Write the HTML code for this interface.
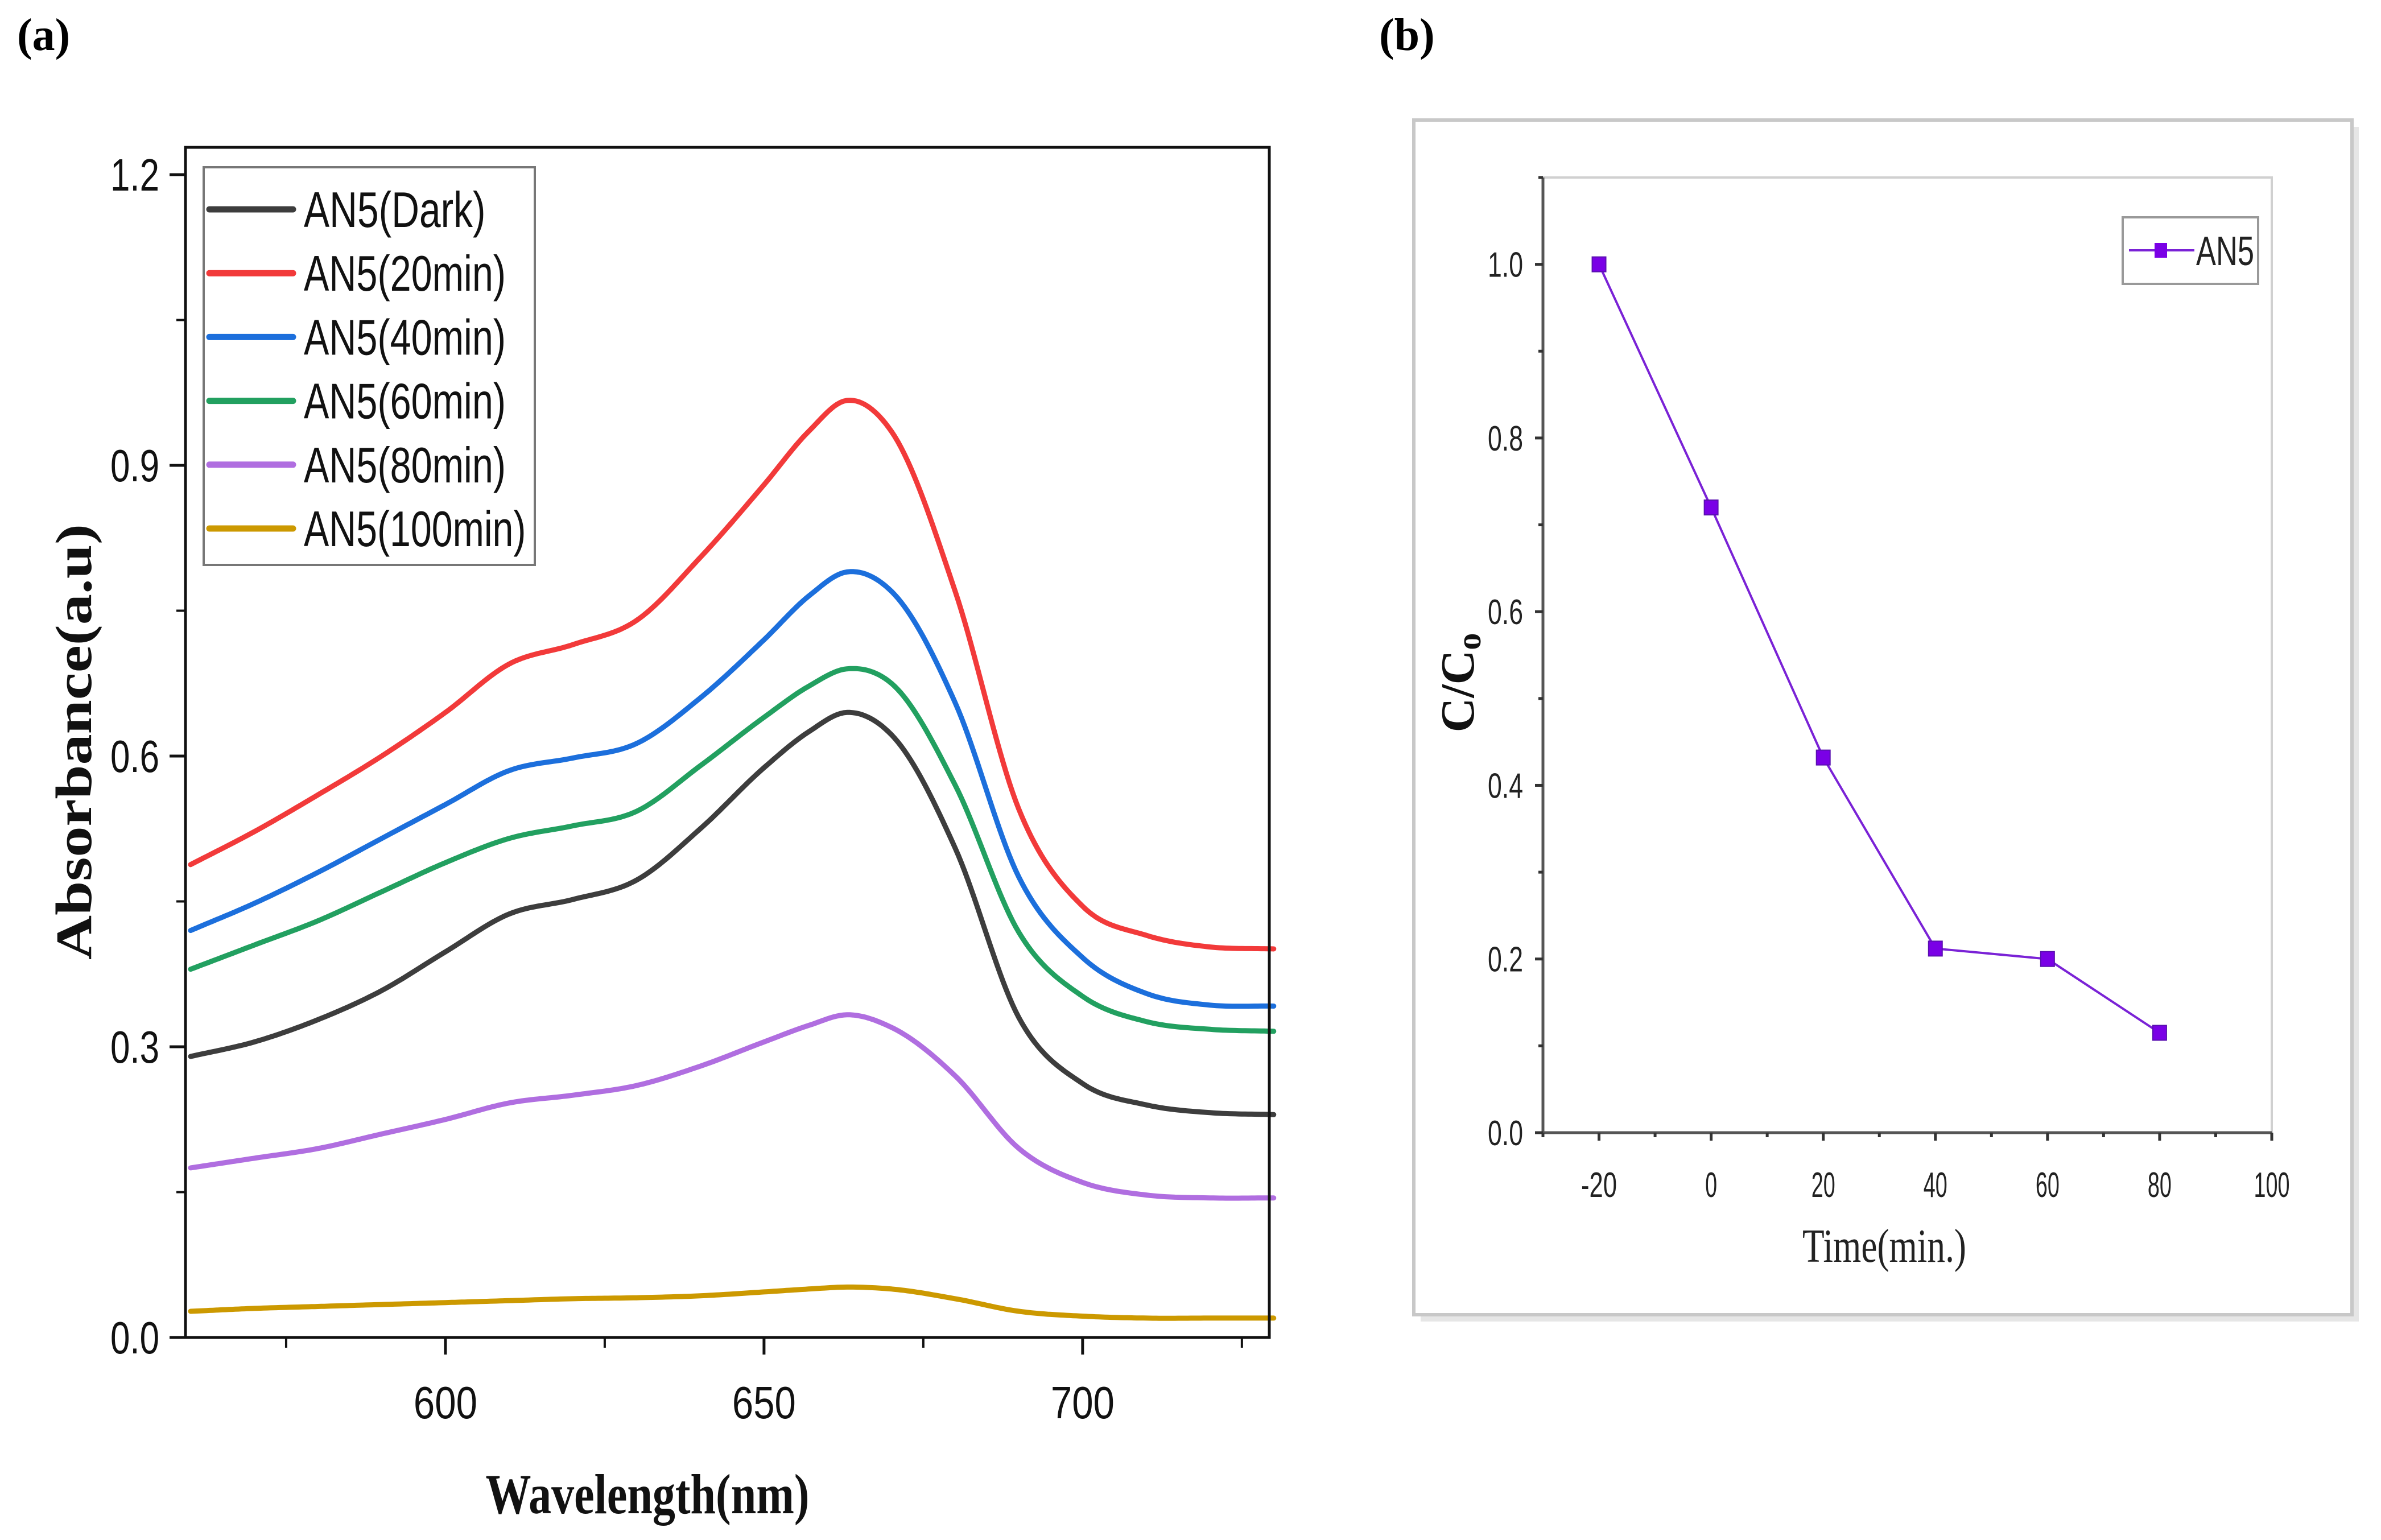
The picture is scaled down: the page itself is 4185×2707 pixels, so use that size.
<!DOCTYPE html>
<html><head><meta charset="utf-8">
<style>
html,body{margin:0;padding:0;background:#fff;}
svg{display:block;}
</style></head>
<body>
<svg id="fig" width="4185" height="2707" viewBox="0 0 4185 2707" xmlns="http://www.w3.org/2000/svg">
  <rect x="0" y="0" width="4185" height="2707" fill="#fff"/>
  <text x="30" y="88" font-family="Liberation Serif, serif" font-weight="bold" font-size="80">(a)</text>
  <text x="2424" y="88" font-family="Liberation Serif, serif" font-weight="bold" font-size="80">(b)</text>

  <g id="panelA"></g>

  <g>
    <rect x="2497" y="223" width="1649" height="2100" fill="#e6e6e6"/>
    <rect x="2485" y="211" width="1649" height="2100" fill="#fff" stroke="#c8c8c8" stroke-width="6"/>
  </g>
  <g id="panelB"></g>
</svg>
<script>
// ---------- Panel (a) data ----------
const wavelengths = [560,570,580,590,600,610,620,630,640,650,657,663,670,680,690,700,710,720,730];
const seriesNames = ["AN5(Dark)","AN5(20min)","AN5(40min)","AN5(60min)","AN5(80min)","AN5(100min)"];
const seriesColors = ["#3d3d3d","#f23a3a","#1c6fdc","#22a060","#b06ee0","#cc9900"];
const darkValues  = [0.290,0.305,0.328,0.358,0.398,0.437,0.452,0.472,0.525,0.588,0.625,0.645,0.622,0.505,0.330,0.262,0.240,0.232,0.230];
const min20Values = [0.488,0.522,0.560,0.600,0.645,0.695,0.715,0.740,0.805,0.880,0.935,0.967,0.935,0.770,0.545,0.445,0.415,0.403,0.401];
const min40Values = [0.420,0.448,0.480,0.515,0.550,0.585,0.598,0.613,0.660,0.720,0.765,0.790,0.770,0.655,0.475,0.392,0.355,0.343,0.342];
const min60Values = [0.380,0.405,0.430,0.460,0.490,0.515,0.528,0.543,0.590,0.640,0.672,0.690,0.675,0.570,0.418,0.352,0.326,0.318,0.316];
const min80Values = [0.175,0.185,0.195,0.210,0.225,0.242,0.250,0.260,0.280,0.305,0.322,0.333,0.320,0.270,0.195,0.160,0.147,0.144,0.144];
const min100Values= [0.027,0.030,0.032,0.034,0.036,0.038,0.040,0.041,0.043,0.047,0.050,0.052,0.050,0.040,0.027,0.022,0.020,0.020,0.020];
const aYTicks = [0.0,0.3,0.6,0.9,1.2];
const aYTickLabels = ["0.0","0.3","0.6","0.9","1.2"];
const aXTicks = [600,650,700];
const aXTickLabels = ["600","650","700"];

// ---------- Panel (b) data ----------
const times = [-20,0,20,40,60,80];
const ratioValues = [1.0,0.72,0.432,0.212,0.2,0.115];
const bXTicks = [-20,0,20,40,60,80,100];
const bXTickLabels = ["-20","0","20","40","60","80","100"];
const bYTicks = [0.0,0.2,0.4,0.6,0.8,1.0];
const bYTickLabels = ["0.0","0.2","0.4","0.6","0.8","1.0"];

const NS = "http://www.w3.org/2000/svg";
function mk(parent, tag, attrs, text){
  const e = document.createElementNS(NS, tag);
  for (const k in attrs) e.setAttribute(k, attrs[k]);
  if (text !== undefined) e.textContent = text;
  parent.appendChild(e);
  return e;
}
// cubic Hermite interpolation in x (non-uniform spacing), sampled densely
function hermitePath(xv, yv, xs, ys){
  const n = xv.length, m = [];
  for (let i=0;i<n;i++){
    if (i===0) m.push((yv[1]-yv[0])/(xv[1]-xv[0]));
    else if (i===n-1) m.push((yv[n-1]-yv[n-2])/(xv[n-1]-xv[n-2]));
    else {
      const d0=(yv[i]-yv[i-1])/(xv[i]-xv[i-1]), d1=(yv[i+1]-yv[i])/(xv[i+1]-xv[i]);
      const h0=xv[i]-xv[i-1], h1=xv[i+1]-xv[i];
      m.push((d0*h1+d1*h0)/(h0+h1));
    }
  }
  let d = "";
  for (let i=0;i<n-1;i++){
    const h = xv[i+1]-xv[i];
    const steps = Math.max(4, Math.round(h*2));
    for (let s=(i===0?0:1); s<=steps; s++){
      const t = s/steps, t2=t*t, t3=t2*t;
      const y = (2*t3-3*t2+1)*yv[i] + (t3-2*t2+t)*h*m[i] + (-2*t3+3*t2)*yv[i+1] + (t3-t2)*h*m[i+1];
      const x = xv[i] + t*h;
      d += (d===""?"M":" L") + xs(x).toFixed(1) + "," + ys(y).toFixed(1);
    }
  }
  return d;
}

// ---------- Panel (a) ----------
(function(){
  const g = document.getElementById("panelA");
  const L=326, R=2231, T=259, B=2351;
  const xmin=559.2, xmax=729.3, ymin=0, ymax=1.2;
  const yTop = 307;
  const xs = v => L + (v-xmin)/(xmax-xmin)*(R-L);
  const ys = v => B - (v-ymin)/(ymax-ymin)*(B-yTop);

  const allSeries = [darkValues,min20Values,min40Values,min60Values,min80Values,min100Values];
  const keys = ["dark","20min","40min","60min","80min","100min"];
  allSeries.forEach((vals,i)=>{
    const p = mk(g,"path",{d:hermitePath(wavelengths, vals, xs, ys),fill:"none",stroke:seriesColors[i],"stroke-width":9,"stroke-linejoin":"round","stroke-linecap":"round"});
    
    
  });

  const frame = mk(g,"rect",{x:L,y:T,width:R-L,height:B-T,fill:"none",stroke:"#111","stroke-width":5});
  
  

  aYTicks.forEach((v,i)=>{
    const y = ys(v);
    const t = mk(g,"line",{x1:L-28,y1:y,x2:L,y2:y,stroke:"#111","stroke-width":5});
    
    
    const lb = mk(g,"text",{x:280,y:y+28,"text-anchor":"end","font-family":"Liberation Sans, sans-serif","font-size":80,textLength:86,lengthAdjust:"spacingAndGlyphs",fill:"#111"}, aYTickLabels[i]);
    
    
    if (i < aYTicks.length-1){
      const ym = ys(v+0.15);
      const m = mk(g,"line",{x1:L-16,y1:ym,x2:L,y2:ym,stroke:"#111","stroke-width":4});
      
      
    }
  });
  aXTicks.forEach((v,i)=>{
    const x = xs(v);
    const t = mk(g,"line",{x1:x,y1:B,x2:x,y2:B+30,stroke:"#111","stroke-width":5});
    
    
    const lb = mk(g,"text",{x:x,y:B+142,"text-anchor":"middle","font-family":"Liberation Sans, sans-serif","font-size":80,textLength:112,lengthAdjust:"spacingAndGlyphs",fill:"#111"}, aXTickLabels[i]);
    
    
  });
  [575,625,675,725].forEach(v=>{
    const x = xs(v);
    const m = mk(g,"line",{x1:x,y1:B,x2:x,y2:B+18,stroke:"#111","stroke-width":4});
    
    
  });

  const xt = mk(g,"text",{x:1138,y:2660,"text-anchor":"middle","font-family":"Liberation Serif, serif","font-weight":"bold","font-size":100,textLength:569,lengthAdjust:"spacingAndGlyphs",fill:"#111"},"Wavelength(nm)");
  
  
  const yt = mk(g,"text",{x:0,y:0,"text-anchor":"middle","font-family":"Liberation Serif, serif","font-weight":"bold","font-size":90,textLength:766,lengthAdjust:"spacingAndGlyphs",fill:"#111",transform:"translate(160,1304) rotate(-90)"},"Absorbance(a.u)");
  
  

  // legend
  const lg = mk(g,"g",{});
  
  
  const lr = mk(lg,"rect",{x:358,y:294,width:582,height:699,fill:"#fff",stroke:"#777","stroke-width":4});
  
  
  seriesNames.forEach((n,i)=>{
    const cy = 368 + i*112.2;
    const e = mk(lg,"g",{});
    
    
    mk(e,"line",{x1:368,y1:cy,x2:515,y2:cy,stroke:seriesColors[i],"stroke-width":11,"stroke-linecap":"round"});
    const w = n.length*35.5;
    mk(e,"text",{x:534,y:cy+31,"font-family":"Liberation Sans, sans-serif","font-size":88,textLength:w,lengthAdjust:"spacingAndGlyphs",fill:"#111"},n);
  });
})();

// ---------- Panel (b) ----------
(function(){
  const g = document.getElementById("panelB");
  const L=2712, R=3993, T=312, B=1991;
  const xmin=-30, xmax=100, ymin=0, ymax=1.1;
  const xs = v => L + (v-xmin)/(xmax-xmin)*(R-L);
  const ys = v => B - (v-ymin)/(ymax-ymin)*(B-T);

  const tr = mk(g,"path",{d:"M"+L+","+T+" H"+R+" V"+B,fill:"none",stroke:"#d0d0d0","stroke-width":4});
  
  
  const ya = mk(g,"line",{x1:L,y1:T,x2:L,y2:B,stroke:"#555","stroke-width":5});
  
  
  const xa = mk(g,"line",{x1:L,y1:B,x2:R,y2:B,stroke:"#555","stroke-width":5});
  
  

  bYTicks.forEach((v,i)=>{
    const y = ys(v);
    const t = mk(g,"line",{x1:L-14,y1:y,x2:L,y2:y,stroke:"#333","stroke-width":5});
    
    
    const lb = mk(g,"text",{x:2677,y:y+22,"text-anchor":"end","font-family":"Liberation Sans, sans-serif","font-size":62,textLength:62,lengthAdjust:"spacingAndGlyphs",fill:"#222"}, bYTickLabels[i]);
    
    
    const ym = ys(v+0.1);
    const m = mk(g,"line",{x1:L-8,y1:ym,x2:L,y2:ym,stroke:"#333","stroke-width":5});
    
    
  });
  bXTicks.forEach((v,i)=>{
    const x = xs(v);
    const t = mk(g,"line",{x1:x,y1:B,x2:x,y2:B+14,stroke:"#333","stroke-width":5});
    
    
    const lb = mk(g,"text",{x:x,y:2104,"text-anchor":"middle","font-family":"Liberation Sans, sans-serif","font-size":62,textLength:bXTickLabels[i].length*21,lengthAdjust:"spacingAndGlyphs",fill:"#222"}, bXTickLabels[i]);
    
    
  });
  [-30,-10,10,30,50,70,90].forEach(v=>{
    const x = xs(v);
    const m = mk(g,"line",{x1:x,y1:B,x2:x,y2:B+8,stroke:"#333","stroke-width":5});
    
    
  });

  const pts = times.map((t,i)=>[xs(t), ys(ratioValues[i])]);
  const line = mk(g,"polyline",{points:pts.map(p=>p[0].toFixed(1)+","+p[1].toFixed(1)).join(" "),fill:"none",stroke:"#7a22d6","stroke-width":4});
  
  
  pts.forEach((p,i)=>{
    const r = mk(g,"rect",{x:p[0]-12,y:p[1]-13,width:24,height:26,fill:"#7a00e6",stroke:"#5a10b0","stroke-width":2});
    
    
  });

  const xt = mk(g,"text",{x:3312,y:2218,"text-anchor":"middle","font-family":"Liberation Serif, serif","font-size":84,textLength:288,lengthAdjust:"spacingAndGlyphs",fill:"#222"},"Time(min.)");
  
  
  const yt = mk(g,"text",{x:0,y:0,"text-anchor":"middle","font-family":"Liberation Serif, serif","font-weight":"bold","font-size":84,fill:"#111",transform:"translate(2590,1200) rotate(-90)"});
  
  
  mk(yt,"tspan",{},"C/C");
  mk(yt,"tspan",{"font-size":60,dy:12},"o");

  const lg = mk(g,"g",{});
  
  
  mk(lg,"rect",{x:3731,y:382,width:238,height:117,fill:"#fff",stroke:"#999","stroke-width":4});
  mk(lg,"line",{x1:3742,y1:440,x2:3857,y2:440,stroke:"#7a22d6","stroke-width":4});
  mk(lg,"rect",{x:3787,y:427,width:22,height:26,fill:"#7a00e6"});
  mk(lg,"text",{x:3860,y:466,"font-family":"Liberation Sans, sans-serif","font-size":72,textLength:102,lengthAdjust:"spacingAndGlyphs",fill:"#222"},"AN5");
})();
</script>
</body></html>
